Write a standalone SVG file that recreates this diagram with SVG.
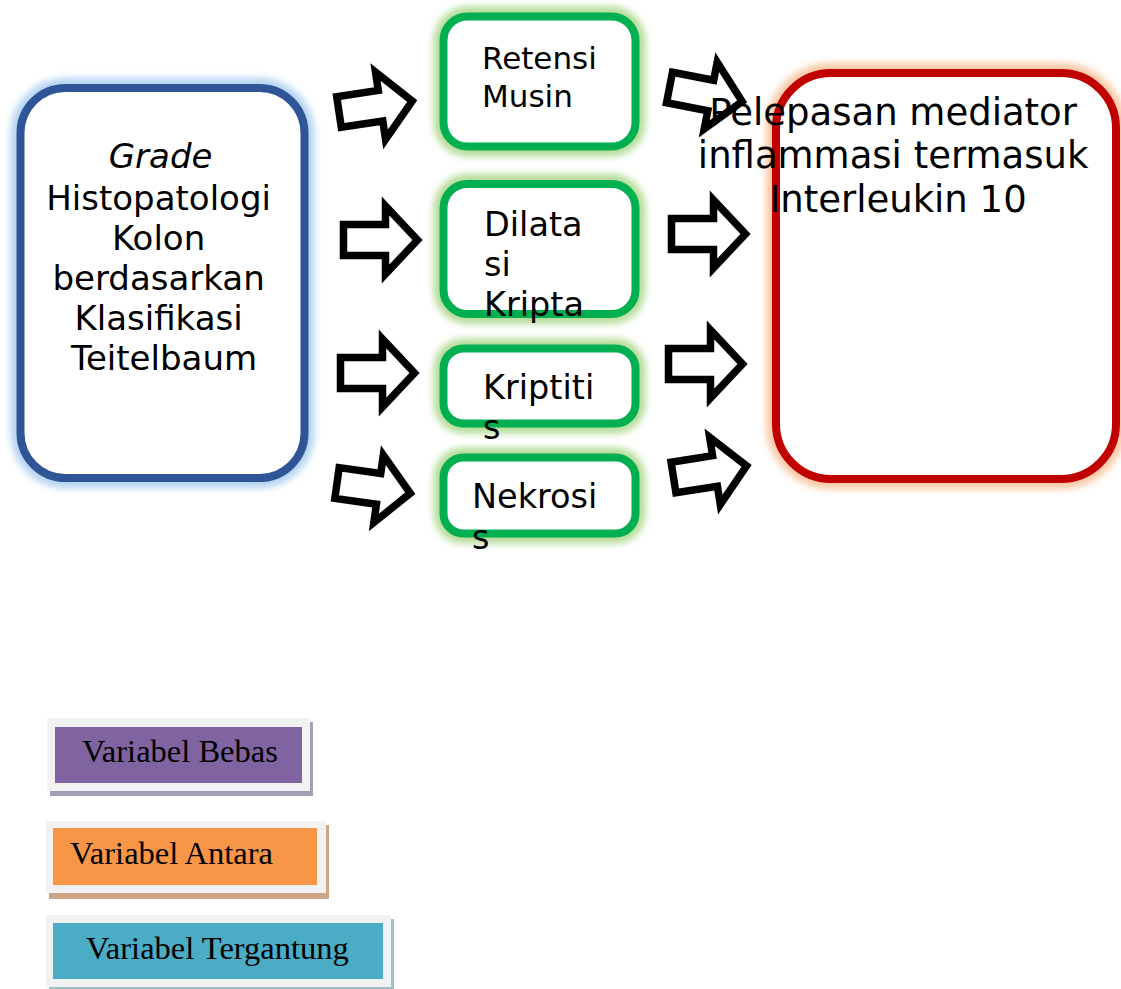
<svg xmlns="http://www.w3.org/2000/svg" width="1121" height="989" viewBox="0 0 1121 989">
<style>
.sans{font-family:"DejaVu Sans","Liberation Sans",sans-serif;fill:#000}
.serif{font-family:"Liberation Serif","Times New Roman",serif;fill:#000;font-size:32.5px}
.arrow{fill:#fff;stroke:#000;stroke-width:7.5;stroke-linejoin:miter}
.glow{fill:none;stroke-width:20;filter:url(#blur)}
</style>
<defs>
<filter id="blur" x="-20%" y="-20%" width="140%" height="140%"><feGaussianBlur stdDeviation="3.5"/></filter>
<path id="arr" d="M0,-15.5 H42 V-34 L74,0 L42,34 V15.5 H0 Z"/>
</defs>
<rect width="1121" height="989" fill="#fff"/>

<g id="grade-box">
<rect class="glow" x="20.5" y="88" width="284" height="390" rx="45" stroke="#B4D4F2"/>
<rect x="20.5" y="88" width="284" height="390" rx="45" fill="#fff" stroke="#2F5597" stroke-width="8"/>
<text class="sans" font-size="34" text-anchor="middle">
<tspan x="166" y="168" font-style="italic">Grade</tspan>
<tspan x="164" y="210">Histopatologi</tspan>
<tspan x="164" y="250">Kolon</tspan>
<tspan x="164" y="290">berdasarkan</tspan>
<tspan x="164" y="330">Klasifikasi</tspan>
<tspan x="164" y="370">Teitelbaum</tspan>
</text>
</g>

<g id="retensi">
<rect class="glow" x="443.5" y="16.5" width="192" height="130" rx="24" stroke="#B5DC98"/>
<rect x="443.5" y="16.5" width="192" height="130" rx="24" fill="#fff" stroke="#00B050" stroke-width="8"/>
<text class="sans" font-size="31"><tspan x="482" y="69">Retensi</tspan><tspan x="482" y="107">Musin</tspan></text>
</g>

<g id="dilatasi">
<rect class="glow" x="443.5" y="184" width="192" height="130" rx="24" stroke="#B5DC98"/>
<rect x="443.5" y="184" width="192" height="130" rx="24" fill="#fff" stroke="#00B050" stroke-width="8"/>
<text class="sans" font-size="33.5"><tspan x="484" y="236">Dilata</tspan><tspan x="484" y="276">si</tspan><tspan x="484" y="316">Kripta</tspan></text>
</g>

<g id="kriptitis">
<rect class="glow" x="443.5" y="348.5" width="192" height="75" rx="20" stroke="#B5DC98"/>
<rect x="443.5" y="348.5" width="192" height="75" rx="20" fill="#fff" stroke="#00B050" stroke-width="8"/>
<text class="sans" font-size="33.5"><tspan x="483" y="399">Kriptiti</tspan><tspan x="483" y="439">s</tspan></text>
</g>

<g id="nekrosis">
<rect class="glow" x="443.5" y="457.5" width="192" height="76" rx="20" stroke="#B5DC98"/>
<rect x="443.5" y="457.5" width="192" height="76" rx="20" fill="#fff" stroke="#00B050" stroke-width="8"/>
<text class="sans" font-size="33.5"><tspan x="472" y="508">Nekrosi</tspan><tspan x="472" y="549">s</tspan></text>
</g>

<g id="connectors">
<use href="#arr" class="arrow" transform="translate(339,112) rotate(-8.5)"/>
<use href="#arr" class="arrow" transform="translate(343.5,240)"/>
<use href="#arr" class="arrow" transform="translate(340.5,373)"/>
<use href="#arr" class="arrow" transform="translate(337,483) rotate(8)"/>
<use href="#arr" class="arrow" transform="translate(669.5,87.5) rotate(11)"/>
<use href="#arr" class="arrow" transform="translate(671.5,234)"/>
<use href="#arr" class="arrow" transform="translate(668.5,364)"/>
<use href="#arr" class="arrow" transform="translate(673.5,477.5) rotate(-9)"/>
</g>

<g id="mediator">
<rect class="glow" x="776" y="73" width="340" height="406" rx="55" stroke="#F9C8A4"/>
<rect x="776" y="73" width="340" height="406" rx="55" fill="#fff" stroke="#C00000" stroke-width="8"/>
<text class="sans" font-size="37" text-anchor="middle">
<tspan x="899" y="125">Pelepasan mediator</tspan>
<tspan x="899" y="168">inflammasi termasuk</tspan>
<tspan x="898" y="212">Interleukin 10</tspan>
</text>
</g>

<g id="legend-bebas">
<rect x="50" y="722" width="263" height="74" fill="#A29EB4"/>
<rect x="47" y="718" width="263" height="73" fill="#F2F2F2"/>
<rect x="55" y="727" width="247" height="56" fill="#8064A2"/>
<text class="serif" x="82" y="762">Variabel Bebas</text>
</g>
<g id="legend-antara">
<rect x="49" y="825" width="280" height="74" fill="#CFA585"/>
<rect x="46" y="821" width="280" height="72" fill="#F2F2F2"/>
<rect x="53" y="828" width="264" height="57" fill="#F79646"/>
<text class="serif" x="70" y="864">Variabel Antara</text>
</g>
<g id="legend-tergantung">
<rect x="49" y="919" width="345" height="72" fill="#9FBFC8"/>
<rect x="46" y="915" width="345" height="72" fill="#F2F2F2"/>
<rect x="53" y="923" width="330" height="56" fill="#4BACC6"/>
<text class="serif" x="86" y="959">Variabel Tergantung</text>
</g>
</svg>
